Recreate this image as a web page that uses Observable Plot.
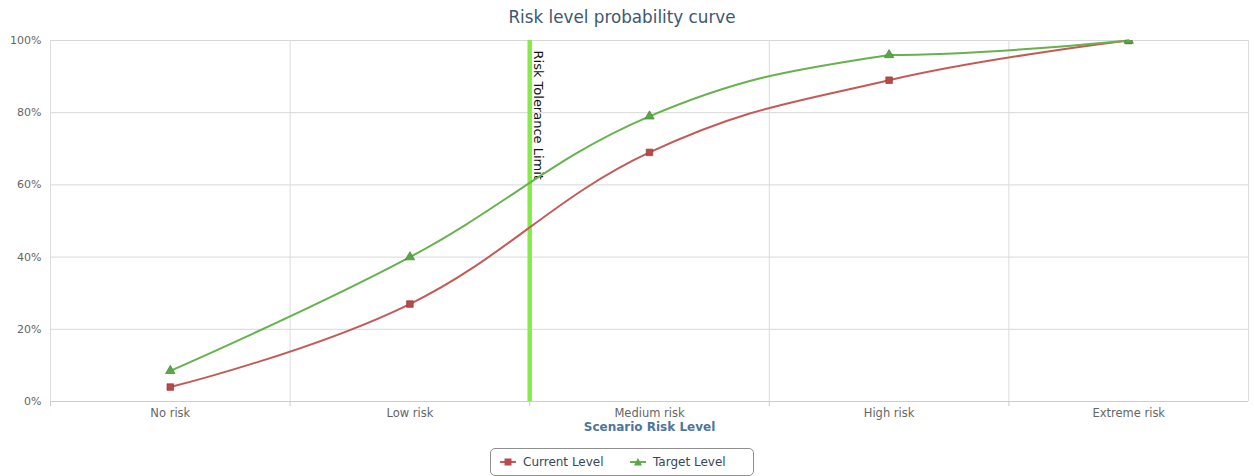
<!DOCTYPE html>
<html>
<head>
<meta charset="utf-8">
<script src="https://cdn.jsdelivr.net/npm/d3@7"></script>
<script src="https://cdn.jsdelivr.net/npm/@observablehq/plot@0.6"></script>
<style>
  html, body { margin: 0; padding: 0; background: #fff; }
  #chart { position: relative; width: 1254px; height: 476px; font-family: "DejaVu Sans", sans-serif; overflow: hidden; }
  #title { position: absolute; left: 0; top: 6px; width: 1244px; text-align: center; font-size: 16.8px; line-height: 22px; color: #3E576F; }
  #plot { position: absolute; left: 0; top: 33px; }
  #legend { position: absolute; left: 490px; top: 448px; width: 262px; height: 26px; border: 1px solid #909090; border-radius: 5px; box-sizing: content-box; }
  .item { position: absolute; top: 0; height: 26px; line-height: 26px; font-size: 12px; color: #34475c; white-space: nowrap; }
  .item svg { position: absolute; top: 6px; left: 0; }
  .item span { position: absolute; left: 23px; top: 0; }
</style>
</head>
<body>
<div id="chart">
  <div id="title">Risk level probability curve</div>
  <div id="plot"></div>
  <div id="legend"></div>
</div>
<script>
// Risk levels along the horizontal axis
const levels = ["No risk", "Low risk", "Medium risk", "High risk", "Extreme risk"];
// Cumulative probability (%) for each scenario risk level
const currentLevel = [4, 27, 69, 89, 100];
const targetLevel = [8.5, 40, 79, 96, 100];
// Tolerance limit sits between "Low risk" and "Medium risk" (category index units)
const toleranceLimit = 1.5;
const toleranceLabel = "Risk Tolerance Limit";
const yTicks = [0, 20, 40, 60, 80, 100];
const seriesNames = ["Current Level", "Target Level"];

const colors = {
  current: "#c45a58", currentMark: "#b84a4a", currentEdge: "#963a3a",
  target: "#66b24c", targetMark: "#5aa648", targetEdge: "#3f8a32",
  limit: "#86eb4a"
};

// Spline through every point: control points sit 40% of the way to each
// neighbour, tilted to follow the neighbours, and flattened where they would overshoot.
function splineCurve(context) {
  let pts;
  return {
    areaStart() {}, areaEnd() {},
    lineStart() { pts = []; },
    point(x, y) { pts.push([+x, +y]); },
    lineEnd() {
      const n = pts.length;
      if (!n) return;
      const s = 1.5, d = s + 1;
      const L = [], R = [];
      for (let i = 0; i < n; i++) {
        const [x, y] = pts[i];
        if (i > 0 && i < n - 1) {
          const [x0, y0] = pts[i - 1], [x1, y1] = pts[i + 1];
          const lx = (s * x + x0) / d, rx = (s * x + x1) / d;
          let ly = (s * y + y0) / d, ry = (s * y + y1) / d;
          const c = ((ry - ly) * (rx - x)) / (rx - lx) + y - ry;
          ly += c; ry += c;
          if ((ly > y0 && ly > y) || (ly < y0 && ly < y)) ly = y;
          if ((ry > y1 && ry > y) || (ry < y1 && ry < y)) ry = y;
          L[i] = [lx, ly]; R[i] = [rx, ry];
        } else {
          L[i] = R[i] = [x, y];
        }
      }
      context.moveTo(pts[0][0], pts[0][1]);
      for (let i = 1; i < n; i++) {
        context.bezierCurveTo(R[i - 1][0], R[i - 1][1], L[i][0], L[i][1], pts[i][0], pts[i][1]);
      }
    }
  };
}

const rows = levels.map((name, i) => ({i, name, current: currentLevel[i], target: targetLevel[i]}));
const boundaries = levels.map((_, i) => i - 0.5).concat([levels.length - 0.5]);

const chart = Plot.plot({
  width: 1254,
  height: 410,
  marginTop: 7,
  marginBottom: 42,
  marginLeft: 50,
  marginRight: 6,
  style: {fontFamily: "DejaVu Sans, sans-serif", fontSize: "11px", color: "#666", background: "transparent"},
  x: {type: "linear", domain: [-0.5, levels.length - 0.5]},
  y: {domain: [0, 100]},
  marks: [
    // grid
    Plot.ruleY(yTicks.slice(1), {stroke: "#d8d8d8", strokeWidth: 1}),
    Plot.ruleX(boundaries, {stroke: "#dcdcdc", strokeWidth: 1}),
    // axis line and boundary tick marks
    Plot.ruleY([0], {stroke: "#c0d0e0", strokeWidth: 1}),
    Plot.ruleX(boundaries.slice(0, -1), {y1: 0, y2: 0, insetBottom: -5, stroke: "#c0d0e0"}),
    Plot.axisY(yTicks, {tickFormat: d => d + "%", tickSize: 0, tickPadding: 9, label: null, fill: "#666", fontSize: 11}),
    Plot.axisX(levels.map((_, i) => i), {tickFormat: i => levels[i], tickSize: 0, tickPadding: 7, label: null, fill: "#666", fontSize: 11.5}),
    Plot.text(["Scenario Risk Level"], {frameAnchor: "bottom", x: (levels.length - 1) / 2, text: d => d, dy: 29, fontWeight: "bold", fontSize: 12, fill: "#4d759e"}),
    // tolerance limit
    Plot.ruleX([toleranceLimit], {stroke: colors.limit, strokeWidth: 4.5}),
    Plot.text([toleranceLimit], {x: d => d, y: 100, text: () => toleranceLabel, rotate: 90, textAnchor: "start", dx: 8.5, dy: 10, fill: "#111", fontSize: 13}),
    // series
    Plot.line(rows, {x: "i", y: "current", stroke: colors.current, strokeWidth: 2, curve: splineCurve}),
    Plot.line(rows, {x: "i", y: "target", stroke: colors.target, strokeWidth: 2, curve: splineCurve}),
    Plot.dot(rows, {x: "i", y: "current", symbol: "square", r: 3.7, fill: colors.currentMark, stroke: colors.currentEdge, strokeWidth: 0.7, clip: true}),
    Plot.dot(rows, {x: "i", y: "target", symbol: "triangle", r: 3.5, fill: colors.targetMark, stroke: colors.targetEdge, strokeWidth: 0.7, clip: true})
  ]
});
document.getElementById("plot").append(chart);

// legend
const legend = document.getElementById("legend");
const legendItems = [
  {name: seriesNames[0], left: 9, color: colors.current, fill: colors.currentMark, shape: "square"},
  {name: seriesNames[1], left: 139, color: colors.target, fill: colors.targetMark, shape: "triangle"}
];
for (const it of legendItems) {
  const div = document.createElement("div");
  div.className = "item";
  div.style.left = it.left + "px";
  const marker = it.shape === "square"
    ? `<rect x="4.5" y="3.5" width="7" height="7" fill="${it.fill}"/>`
    : `<path d="M8,3 L12,10.5 L4,10.5 Z" fill="${it.fill}"/>`;
  div.innerHTML = `<svg width="16" height="14"><line x1="0" x2="16" y1="7" y2="7" stroke="${it.color}" stroke-width="2"/>${marker}</svg><span>${it.name}</span>`;
  legend.append(div);
}
</script>
</body>
</html>
